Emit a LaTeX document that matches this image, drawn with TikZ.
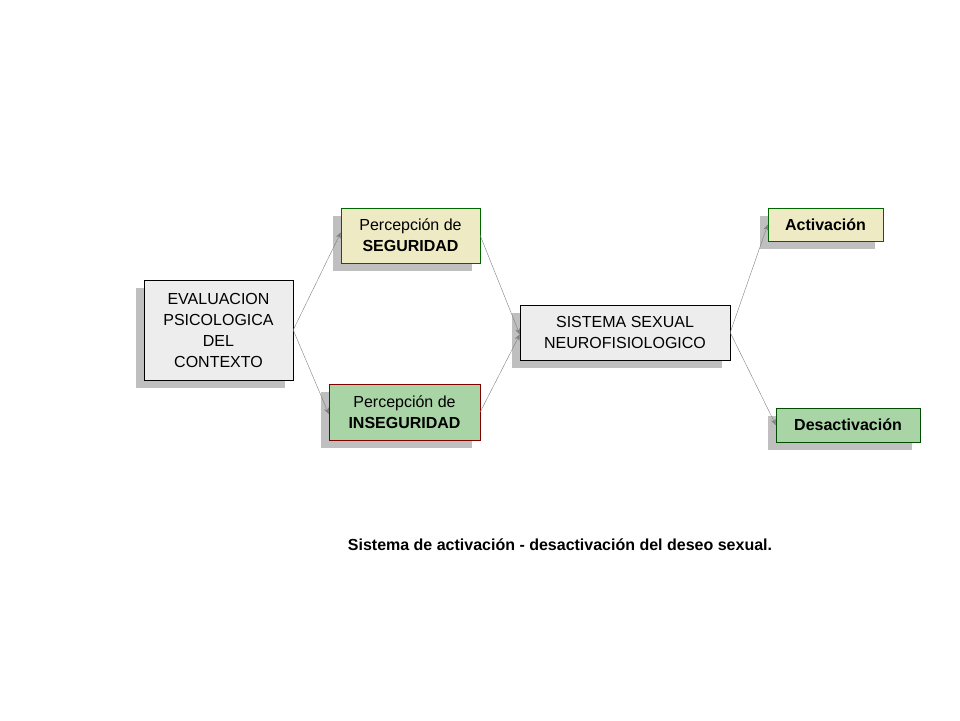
\documentclass[tikz,border=0pt]{standalone}
\usepackage{fontspec}
\setmainfont{Liberation Sans}
\usetikzlibrary{shadows,arrows.meta}
\definecolor{yel}{HTML}{EEEBC4}
\definecolor{grn}{HTML}{A9D4A6}
\definecolor{lgray}{HTML}{EDEDED}
\tikzstyle{block} = [draw, rectangle, inner sep=0pt, align=center,
    font=\fontsize{16}{21}\selectfont,
    drop shadow={shadow xshift=-8pt, shadow yshift=-8pt, fill=black!25, opacity=1}]
\tikzstyle{link} = [draw=gray, -{Stealth[length=6pt,width=5pt]}, thin]

\begin{document}
\begin{tikzpicture}[x=1pt,y=-1pt]
    \useasboundingbox (0,0) rectangle (960,720);
    % the blocks
    \node [block, fill=lgray, minimum width=149pt, minimum height=100pt] (eval) at (218.5,330) {EVALUACION\\PSICOLOGICA\\DEL\\CONTEXTO};
    \node [block, fill=yel, draw=green!40!black, minimum width=139pt, minimum height=55pt] (seg) at (410.5,235.5) {Percepción de\\\textbf{SEGURIDAD}};
    \node [block, fill=grn, draw=red!50!black, minimum width=151pt, minimum height=56pt] (inseg) at (404.5,412) {Percepción de\\\textbf{INSEGURIDAD}};
    \node [block, fill=lgray, minimum width=210pt, minimum height=55pt] (sis) at (625,332.5) {SISTEMA SEXUAL\\NEUROFISIOLOGICO};
    \node [block, fill=yel, draw=green!40!black, minimum width=115pt, minimum height=33pt] (act) at (825.5,224.5) {\textbf{Activación}};
    \node [block, fill=grn, draw=green!30!black, minimum width=144pt, minimum height=34pt] (desact) at (848,425) {\textbf{Desactivación}};
    % the connectors
    \draw [link] (eval.east) -- ([yshift=3pt]seg.west);
    \draw [link] (eval.east) -- ([yshift=-2pt]inseg.west);
    \draw [link] (seg.east) -- ([yshift=-2pt]sis.west);
    \draw [link] (inseg.east) -- ([yshift=-2pt]sis.west);
    \draw [link] (sis.east) -- (act.west);
    \draw [link] (sis.east) -- (desact.west);
    % caption
    \node [font=\bfseries\fontsize{16}{20}\selectfont] (cap) at (560,545) {Sistema de activación - desactivación del deseo sexual.};
\end{tikzpicture}
\end{document}
